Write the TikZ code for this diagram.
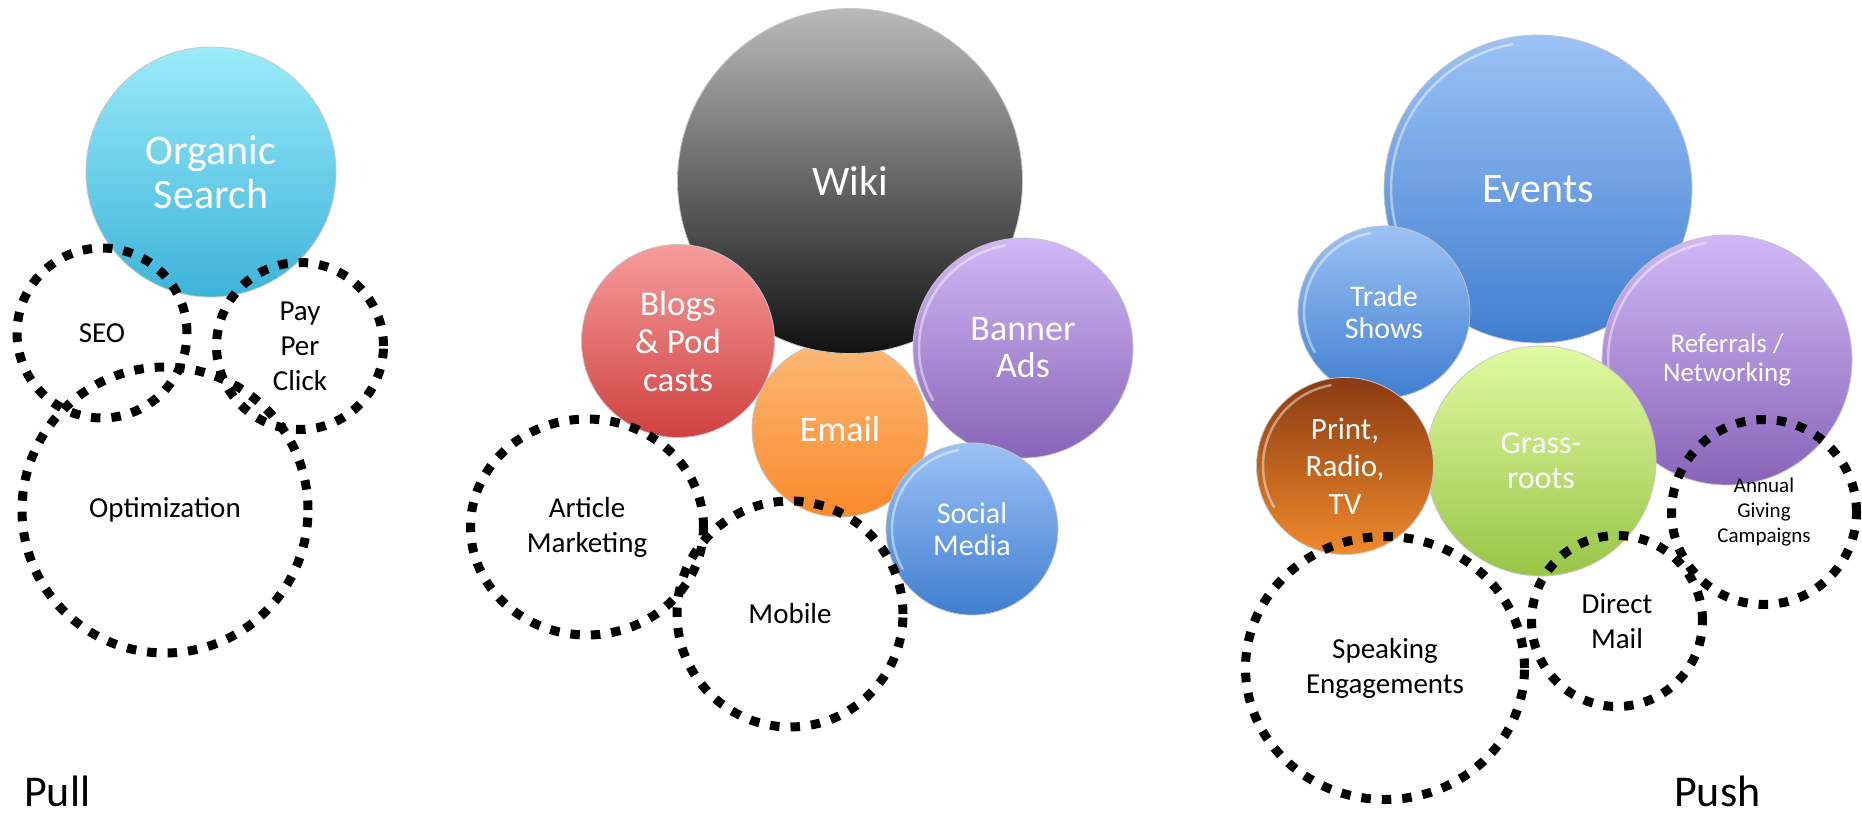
\documentclass[tikz,border=0pt]{standalone}
\usepackage{fontspec}
\setmainfont{Carlito}
\usetikzlibrary{shapes.geometric,calc}
\definecolor{cyanT}{HTML}{9BEBF9}
\definecolor{cyanB}{HTML}{3DB3D9}
\definecolor{wikiT}{HTML}{BABABA}
\definecolor{wikiB}{HTML}{111111}
\definecolor{redT}{HTML}{F79C9C}
\definecolor{redB}{HTML}{CF4141}
\definecolor{orT}{HTML}{FBB978}
\definecolor{orB}{HTML}{FB8A2A}
\definecolor{purT}{HTML}{D2B8F6}
\definecolor{purB}{HTML}{8764B8}
\definecolor{bluT}{HTML}{9DC2F6}
\definecolor{bluB}{HTML}{3F7ECF}
\definecolor{brT}{HTML}{8A3A12}
\definecolor{brM}{HTML}{CD8650}
\definecolor{brB}{HTML}{F08A2C}
\definecolor{grT}{HTML}{E0FAA2}
\definecolor{grB}{HTML}{98C548}
\newcommand\glossrim[2]{\draw[white, opacity=.45, line width=2.5pt, line cap=round] ($(#1.center)+(100:#2)$) arc[start angle=100, end angle=210, radius=#2];}
\begin{document}
\begin{tikzpicture}[x=1pt,y=1pt,
  bubble/.style={circle, draw=black!22, line width=0.8pt, inner sep=0pt, text=white, align=center},
  dotring/.style={circle, draw=black, line width=9pt, dash pattern=on 9.5pt off 11pt, inner sep=0pt, align=center, text=black, font=\fontsize{29}{35}\selectfont},
  dotoval/.style={ellipse, draw=black, line width=9pt, dash pattern=on 9.5pt off 11pt, inner sep=0pt, align=center, text=black, font=\fontsize{29}{35}\selectfont},
  side/.style={inner sep=0pt, font=\fontsize{44}{44}\selectfont, text=black}
]
\useasboundingbox (0,0) rectangle (1862,-819);

% ---------- Pull ----------
\node[bubble, minimum size=250, top color=cyanT, bottom color=cyanB, font=\fontsize{42}{44}\selectfont] (organic) at (211,-172) {Organic\\Search};
\node[dotring, minimum size=170] (seo) at (102,-333) {SEO};
\node[dotring, minimum size=167] (ppc) at (300,-346) {Pay\\Per\\Click};
\node[dotring, minimum size=286] (opt) at (165,-510) {Optimization};
\node[side, anchor=base west] (pull) at (24,-806) {Pull};

% ---------- middle ----------
\node[bubble, minimum size=176, top color=orT, bottom color=orB, font=\fontsize{36}{38}\selectfont] (email) at (840,-429) {Email};
\node[bubble, minimum size=345, top color=wikiT, bottom color=wikiB, font=\fontsize{42}{44}\selectfont] (wiki) at (850,-181) {Wiki};
\node[bubble, minimum size=193, top color=redT, bottom color=redB, font=\fontsize{35}{38}\selectfont] (blogs) at (678,-341) {Blogs\\\& Pod\\casts};
\node[bubble, minimum size=220, top color=purT, bottom color=purB, font=\fontsize{36}{37}\selectfont] (banner) at (1023,-348) {Banner\\Ads};
\glossrim{banner}{104}
\node[bubble, minimum size=172, top color=bluT, bottom color=bluB, font=\fontsize{30}{32}\selectfont] (social) at (972,-529) {Social\\Media};
\glossrim{social}{80}
\node[dotoval, minimum width=233, minimum height=216] (article) at (587,-527) {Article\\Marketing};
\node[dotring, minimum size=226] (mobile) at (790,-614) {Mobile};

% ---------- Push ----------
\node[bubble, minimum size=308, top color=bluT, bottom color=bluB, font=\fontsize{42}{44}\selectfont] (events) at (1538,-189) {Events};
\glossrim{events}{147}
\node[bubble, minimum size=172, top color=bluT, bottom color=bluB, font=\fontsize{30}{32}\selectfont] (trade) at (1384,-312) {Trade\\Shows};
\glossrim{trade}{80}
\node[bubble, minimum size=250, top color=purT, bottom color=purB, font=\fontsize{27}{29}\selectfont] (referrals) at (1727,-360) {Referrals /\\Networking};
\glossrim{referrals}{119}
\node[bubble, minimum size=230, top color=grT, bottom color=grB, font=\fontsize{32}{35}\selectfont] (grass) at (1541,-461) {Grass-\\roots};
\node[bubble, minimum size=177, top color=brT, middle color=brM, bottom color=brB, font=\fontsize{31}{37.5}\selectfont] (print) at (1345,-466) {Print,\\Radio,\\TV};
\glossrim{print}{82}
\node[dotoval, minimum width=279, minimum height=263] (speak) at (1385,-668) {Speaking\\Engagements};
\node[dotring, minimum size=171] (direct) at (1617,-621) {Direct\\Mail};
\node[dotring, minimum size=185, font=\fontsize{21}{25}\selectfont] (annual) at (1764,-512) {Annual\\Giving\\Campaigns};
\node[side, anchor=base west] (push) at (1674,-806) {Push};
\end{tikzpicture}
\end{document}
